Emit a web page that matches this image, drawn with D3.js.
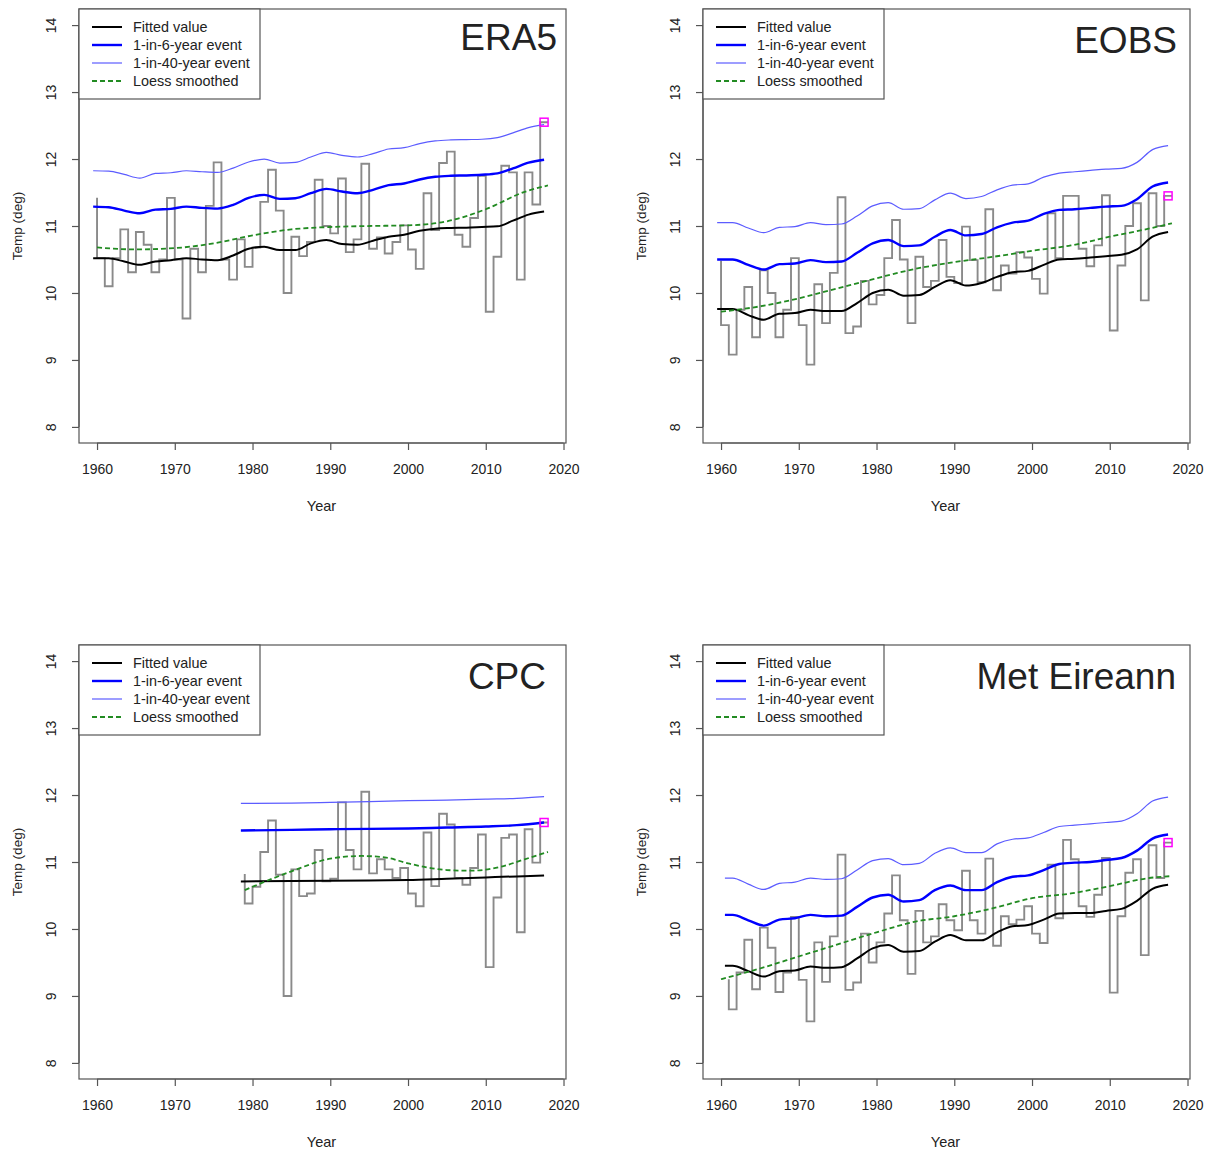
<!DOCTYPE html>
<html>
<head>
<meta charset="utf-8">
<script src="https://cdn.jsdelivr.net/npm/d3@7"></script>
<style>
body { margin: 0; background: #fff; }
text { font-family: "Liberation Sans", Arial, sans-serif; fill: #222; }
</style>
</head>
<body>
<script>
// ---- data ----
const xTicks = [1960, 1970, 1980, 1990, 2000, 2010, 2020]
const yTicks = [8, 9, 10, 11, 12, 13, 14]
const legendLabels = ["Fitted value", "1-in-6-year event", "1-in-40-year event", "Loess smoothed"]

// x positions of the sampled model curves (centre of each year)
const fitX = [1959.5, 1961.5, 1963.5, 1965.5, 1967.5, 1969.5, 1971.5, 1973.5, 1975.5, 1977.5,
              1979.5, 1981.5, 1983.5, 1985.5, 1987.5, 1989.5, 1991.5, 1993.5, 1995.5, 1997.5,
              1999.5, 2001.5, 2003.5, 2005.5, 2007.5, 2009.5, 2011.5, 2013.5, 2015.5, 2017.5]
const metFitX = [1960.5, 1961.5, 1963.5, 1965.5, 1967.5, 1969.5, 1971.5, 1973.5, 1975.5, 1977.5,
              1979.5, 1981.5, 1983.5, 1985.5, 1987.5, 1989.5, 1991.5, 1993.5, 1995.5, 1997.5,
              1999.5, 2001.5, 2003.5, 2005.5, 2007.5, 2009.5, 2011.5, 2013.5, 2015.5, 2017.5]
const cpcFitX = [1978.5, 1985, 1990, 1995, 2000, 2005, 2010, 2014, 2017.5]
const loessX = [1960, 1965, 1970, 1975, 1980, 1985, 1990, 1995, 2000, 2005, 2010, 2015, 2018]
const cpcLoessX = [1979, 1980, 1985, 1990, 1994, 1997, 2000, 2005, 2008, 2012, 2015, 2018]

// ERA5
const era5Start = 1960
const era5Obs = [11.42, 10.52, 10.1, 10.52, 10.95, 10.31, 10.91, 10.72, 10.31, 10.5,
                 11.42, 10.5, 9.62, 10.66, 10.31, 11.3, 11.95, 10.5, 10.2, 10.8,
                 10.39, 10.68, 11.36, 11.84, 11.23, 10.0, 10.84, 10.55, 10.76, 11.69,
                 11.0, 10.89, 11.71, 10.61, 10.8, 11.93, 10.66, 10.83, 10.59, 10.76,
                 11.01, 10.65, 10.36, 11.49, 10.94, 11.94, 12.11, 10.87, 10.69, 11.12,
                 11.75, 9.72, 10.54, 11.9, 11.8, 10.2, 11.8, 11.32, 12.55]
const era5Fit = [10.52, 10.52, 10.47, 10.42, 10.47, 10.49, 10.52, 10.5, 10.49, 10.56,
                 10.66, 10.69, 10.64, 10.64, 10.74, 10.79, 10.73, 10.72, 10.78, 10.84,
                 10.87, 10.93, 10.96, 10.97, 10.975, 10.985, 10.995, 11.08, 11.17, 11.215]
const era5Rp6 = [11.29, 11.28, 11.23, 11.19, 11.245, 11.255, 11.29, 11.27, 11.26, 11.315,
                 11.42, 11.465, 11.405, 11.415, 11.49, 11.555, 11.515, 11.49, 11.54, 11.61,
                 11.635, 11.695, 11.735, 11.75, 11.755, 11.765, 11.785, 11.86, 11.945, 11.99]
const era5Rp40 = [11.825, 11.82, 11.77, 11.715, 11.785, 11.795, 11.825, 11.81, 11.8, 11.865,
                  11.955, 12.0, 11.94, 11.95, 12.03, 12.1, 12.055, 12.03, 12.08, 12.15,
                  12.17, 12.23, 12.27, 12.285, 12.29, 12.295, 12.32, 12.39, 12.47, 12.515]
const era5Loess = [10.68, 10.65, 10.67, 10.74, 10.86, 10.95, 10.985, 11.0, 11.01, 11.07, 11.25, 11.51, 11.605]

// EOBS
const eobsStart = 1960
const eobsObs = [10.48, 9.52, 9.08, 9.75, 10.09, 9.34, 10.34, 10.0, 9.34, 9.75,
                 10.52, 9.52, 8.93, 10.13, 9.55, 10.3, 11.43, 9.4, 9.5, 10.18,
                 9.83, 9.97, 10.52, 11.09, 10.5, 9.55, 10.54, 10.09, 10.18, 10.79,
                 10.24, 10.15, 10.99, 10.49, 10.16, 11.25, 10.04, 10.41, 10.29, 10.61,
                 10.53, 10.21, 9.99, 11.19, 10.52, 11.45, 11.45, 10.66, 10.4, 10.71,
                 11.46, 9.44, 10.41, 11.0, 11.34, 9.89, 11.49, 11.0, 11.45]
const eobsFit = [9.76, 9.76, 9.67, 9.6, 9.69, 9.7, 9.75, 9.73, 9.73, 9.85,
                 10.0, 10.05, 9.96, 9.97, 10.09, 10.19, 10.11, 10.15, 10.24, 10.31,
                 10.33, 10.42, 10.5, 10.51, 10.53, 10.55, 10.57, 10.65, 10.84, 10.91]
const eobsRp6 = [10.5, 10.5, 10.42, 10.35, 10.43, 10.44, 10.49, 10.46, 10.47, 10.6,
                 10.74, 10.79, 10.7, 10.71, 10.84, 10.94, 10.86, 10.88, 10.98, 11.05,
                 11.08, 11.18, 11.24, 11.25, 11.27, 11.29, 11.3, 11.4, 11.59, 11.65]
const eobsRp40 = [11.05, 11.05, 10.97, 10.9, 10.98, 10.99, 11.05, 11.02, 11.03, 11.15,
                  11.3, 11.35, 11.25, 11.26, 11.39, 11.49, 11.41, 11.44, 11.54, 11.61,
                  11.63, 11.73, 11.79, 11.81, 11.83, 11.85, 11.86, 11.95, 12.14, 12.2]
const eobsLoess = [9.72, 9.8, 9.92, 10.07, 10.22, 10.36, 10.46, 10.54, 10.63, 10.71, 10.84, 10.96, 11.04]

// CPC
const cpcStart = 1979
const cpcObs = [10.82, 10.38, 10.63, 11.15, 11.62, 10.81, 9.0, 10.89, 10.49, 10.53,
                11.18, 10.71, 10.75, 11.89, 11.18, 10.89, 12.05, 10.83, 11.04, 10.89,
                10.76, 10.91, 10.53, 10.34, 11.44, 10.64, 11.72, 11.56, 10.76, 10.66,
                10.91, 11.41, 9.43, 10.47, 11.36, 11.41, 9.95, 11.49, 10.99, 11.59]
const cpcFit = [10.71, 10.715, 10.72, 10.725, 10.73, 10.75, 10.77, 10.785, 10.8]
const cpcRp6 = [11.47, 11.48, 11.49, 11.495, 11.5, 11.515, 11.53, 11.55, 11.59]
const cpcRp40 = [11.875, 11.88, 11.89, 11.9, 11.915, 11.925, 11.94, 11.95, 11.975]
const cpcLoess = [10.58, 10.63, 10.86, 11.05, 11.09, 11.07, 10.98, 10.88, 10.87, 10.93, 11.04, 11.15]

// Met Eireann
const metStart = 1961
const metObs = [9.25, 8.8, 9.35, 9.84, 9.1, 10.02, 9.72, 9.06, 9.35, 10.18,
                9.24, 8.62, 9.8, 9.21, 9.89, 11.11, 9.09, 9.2, 9.93, 9.5,
                9.8, 10.23, 10.8, 10.13, 9.33, 10.27, 9.8, 9.89, 10.37, 10.13,
                9.98, 10.87, 10.13, 9.93, 11.05, 9.75, 10.19, 10.07, 10.14, 10.34,
                9.93, 9.79, 10.96, 10.16, 11.33, 11.04, 10.34, 10.18, 10.51, 11.06,
                9.05, 10.19, 10.84, 11.04, 9.61, 11.25, 10.76, 11.29]
const metFit = [9.45, 9.45, 9.37, 9.29, 9.37, 9.38, 9.44, 9.42, 9.43, 9.56,
                9.71, 9.76, 9.66, 9.67, 9.81, 9.91, 9.83, 9.83, 9.95, 10.04,
                10.06, 10.14, 10.23, 10.24, 10.24, 10.27, 10.3, 10.42, 10.6, 10.66]
const metRp6 = [10.21, 10.21, 10.13, 10.05, 10.14, 10.16, 10.21, 10.19, 10.2, 10.33,
                10.47, 10.51, 10.41, 10.43, 10.58, 10.65, 10.58, 10.58, 10.7, 10.78,
                10.8, 10.88, 10.97, 10.99, 11.0, 11.03, 11.06, 11.17, 11.35, 11.41]
const metRp40 = [10.76, 10.76, 10.67, 10.59, 10.68, 10.7, 10.76, 10.74, 10.75, 10.88,
                 11.02, 11.05, 10.96, 10.98, 11.13, 11.21, 11.14, 11.14, 11.27, 11.34,
                 11.36, 11.44, 11.53, 11.55, 11.57, 11.59, 11.61, 11.72, 11.91, 11.97]
const metLoess = [9.25, 9.41, 9.59, 9.77, 9.95, 10.11, 10.19, 10.31, 10.46, 10.53, 10.64, 10.76, 10.79]

// ---- panels ----
const panels = [
    {name: "ERA5", dx: 0, dy: 0, titleRight: 557, titleY: 50, start: era5Start, obs: era5Obs,
     fitX: fitX, fit: era5Fit, rp6: era5Rp6, rp40: era5Rp40, loessX: loessX, loess: era5Loess},
    {name: "EOBS", dx: 624, dy: 0, titleRight: 553, titleY: 53, start: eobsStart, obs: eobsObs,
     fitX: fitX, fit: eobsFit, rp6: eobsRp6, rp40: eobsRp40, loessX: loessX, loess: eobsLoess},
    {name: "CPC", dx: 0, dy: 636, titleRight: 546, titleY: 53, start: cpcStart, obs: cpcObs,
     fitX: cpcFitX, fit: cpcFit, rp6: cpcRp6, rp40: cpcRp40, loessX: cpcLoessX, loess: cpcLoess},
    {name: "Met Eireann", dx: 624, dy: 636, titleRight: 552, titleY: 53, start: metStart, obs: metObs,
     fitX: metFitX, fit: metFit, rp6: metRp6, rp40: metRp40, loessX: loessX, loess: metLoess}
]

const colors = {obs: "#8a8a8a", fit: "#000000", rp6: "#0000ff", rp40: "#5c5cff", loess: "#228b22", event: "#ff00ff"}

const svg = d3.select("body").append("svg")
    .attr("width", 1209)
    .attr("height", 1152)

// plot box inside each panel, R style 4% padding round the ranges
const box = {left: 79, right: 566, top: 9, bottom: 443}
const xPad = 0.04 * (2018 - 1960)
const yPad = 0.04 * (14 - 8)

panels.forEach(p => drawPanel(p))

function drawPanel(p) {
    const g = svg.append("g").attr("transform", "translate(" + p.dx + "," + p.dy + ")")

    const x = d3.scaleLinear().domain([1960 - xPad, 2018 + xPad]).range([box.left, box.right])
    const y = d3.scaleLinear().domain([8 - yPad, 14 + yPad]).range([box.bottom, box.top])

    // observed annual values as a step line
    const years = d3.range(p.start, p.start + p.obs.length)
    const obsData = years.map((yr, i) => ({x: yr, v: p.obs[i]}))
    const stepLine = d3.line().x(d => x(d.x)).y(d => y(d.v)).curve(d3.curveStepBefore)
    g.append("path").datum(obsData)
        .attr("d", stepLine)
        .attr("fill", "none")
        .attr("stroke", colors.obs)
        .attr("stroke-width", 1.9)

    const smooth = d3.line().x(d => x(d[0])).y(d => y(d[1])).curve(d3.curveMonotoneX)
    const addLine = (xs, vs, color, width, dash) => {
        g.append("path").datum(xs.map((xx, i) => [xx, vs[i]]))
            .attr("d", smooth)
            .attr("fill", "none")
            .attr("stroke", color)
            .attr("stroke-width", width)
            .attr("stroke-dasharray", dash || null)
    }
    addLine(p.fitX, p.fit, colors.fit, 2, null)
    addLine(p.fitX, p.rp6, colors.rp6, 2.4, null)
    addLine(p.fitX, p.rp40, colors.rp40, 1.2, null)
    addLine(p.loessX, p.loess, colors.loess, 1.8, "5,3")

    // the event year
    const last = obsData[obsData.length - 1]
    g.append("rect")
        .attr("x", x(last.x - 0.5) - 4)
        .attr("y", y(last.v) - 4)
        .attr("width", 8)
        .attr("height", 8)
        .attr("fill", "none")
        .attr("stroke", colors.event)
        .attr("stroke-width", 1.5)

    // box
    g.append("rect")
        .attr("x", box.left).attr("y", box.top)
        .attr("width", box.right - box.left).attr("height", box.bottom - box.top)
        .attr("fill", "none").attr("stroke", "#555").attr("stroke-width", 1.2)

    // x axis
    const xAxis = g.append("g")
        .attr("transform", "translate(0," + box.bottom + ")")
        .call(d3.axisBottom(x).tickValues(xTicks).tickFormat(d3.format("d")).tickSize(7).tickPadding(14))
    xAxis.select(".domain").attr("d", "M" + x(1960) + ",0H" + x(2020)).attr("stroke", "#555").attr("stroke-width", 1.2)
    xAxis.selectAll(".tick line").attr("stroke", "#555").attr("stroke-width", 1.2)
    xAxis.selectAll(".tick text").attr("font-size", 14).attr("fill", "#222")
        .style("font-family", "'Liberation Sans', Arial, sans-serif")

    // y axis with labels parallel to the axis
    const yAxis = g.append("g")
        .attr("transform", "translate(" + box.left + ",0)")
        .call(d3.axisLeft(y).tickValues(yTicks).tickSize(7).tickFormat(d3.format("d")))
    yAxis.select(".domain").attr("d", "M0," + y(8) + "V" + y(14)).attr("stroke", "#555").attr("stroke-width", 1.2)
    yAxis.selectAll(".tick line").attr("stroke", "#555").attr("stroke-width", 1.2)
    yAxis.selectAll(".tick text")
        .attr("x", null).attr("dy", null)
        .attr("text-anchor", "middle")
        .attr("transform", "translate(-28,0) rotate(-90)")
        .attr("dy", "0.35em")
        .attr("font-size", 14).attr("fill", "#222")
        .style("font-family", "'Liberation Sans', Arial, sans-serif")

    // axis titles
    g.append("text")
        .attr("x", (box.left + box.right) / 2 - 1).attr("y", 511)
        .attr("text-anchor", "middle").attr("font-size", 14.5)
        .text("Year")
    g.append("text")
        .attr("transform", "translate(22," + (box.top + box.bottom) / 2 + ") rotate(-90)")
        .attr("text-anchor", "middle").attr("font-size", 13.5)
        .text("Temp (deg)")

    // panel title
    g.append("text")
        .attr("x", p.titleRight).attr("y", p.titleY)
        .attr("text-anchor", "end").attr("font-size", 37)
        .text(p.name)

    // legend
    const leg = g.append("g").attr("transform", "translate(" + box.left + "," + box.top + ")")
    leg.append("rect")
        .attr("width", 181).attr("height", 90)
        .attr("fill", "#fff").attr("stroke", "#555").attr("stroke-width", 1.2)
    const legStyle = [
        {color: colors.fit, width: 2, dash: null},
        {color: colors.rp6, width: 2.4, dash: null},
        {color: colors.rp40, width: 1.2, dash: null},
        {color: colors.loess, width: 1.8, dash: "5,3"}
    ]
    legendLabels.forEach((lab, i) => {
        const ly = 18 + i * 18
        leg.append("line")
            .attr("x1", 13).attr("x2", 43).attr("y1", ly).attr("y2", ly)
            .attr("stroke", legStyle[i].color)
            .attr("stroke-width", legStyle[i].width)
            .attr("stroke-dasharray", legStyle[i].dash)
        leg.append("text")
            .attr("x", 54).attr("y", ly).attr("dy", "0.35em")
            .attr("font-size", 14.4)
            .text(lab)
    })
}
</script>
</body>
</html>
